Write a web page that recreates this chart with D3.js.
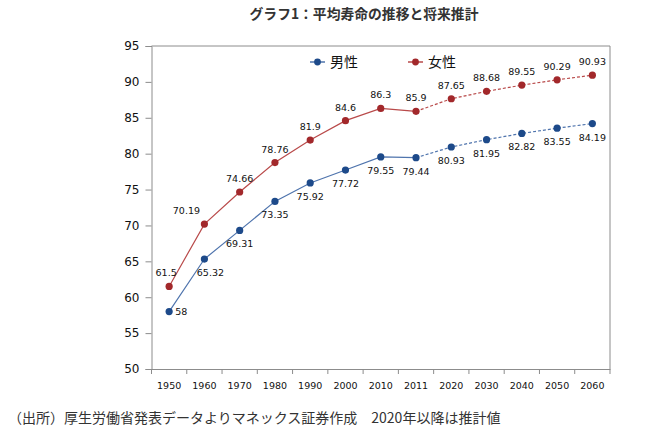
<!DOCTYPE html>
<html><head><meta charset="utf-8">
<script src="https://cdn.jsdelivr.net/npm/d3@7"></script>
<style>body{margin:0;background:#fff}</style>
</head><body><svg id="c" width="654" height="432"></svg>
<script>
const years = ["1950","1960","1970","1980","1990","2000","2010","2011","2020","2030","2040","2050","2060"];
const male = [58,65.32,69.31,73.35,75.92,77.72,79.55,79.44,80.93,81.95,82.82,83.55,84.19];
const female = [61.5,70.19,74.66,78.76,81.9,84.6,86.3,85.9,87.65,88.68,89.55,90.29,90.93];
const yTicks = [50,55,60,65,70,75,80,85,90,95];
const splitYear = "2011"; // actual up to here, projected after
const seriesNames = ["男性","女性"];
const title = "グラフ1：平均寿命の推移と将来推計";
const caption = "（出所）厚生労働省発表データよりマネックス証券作成　2020年以降は推計値";

const svg = d3.select("#c");
const L=151.5, R=610, T=46, B=369;
const x = d3.scaleBand().domain(years).range([L,R]);
const y = d3.scaleLinear().domain([50,95]).range([B,T]);
const cx = d => x(d)+x.bandwidth()/2;
const axisCol="#8c8c8c";
const numFont="'DejaVu Sans', Verdana, sans-serif";
const jpFont="'Noto Sans CJK JP', sans-serif";

svg.append("text").attr("x",364).attr("y",19).attr("text-anchor","middle")
  .attr("font-family",jpFont).attr("font-weight","bold").attr("font-size",13.8).attr("fill","#333").text(title);

// frame top and right
svg.append("line").attr("x1",L).attr("x2",R).attr("y1",T).attr("y2",T).attr("stroke",axisCol);
svg.append("line").attr("x1",R).attr("x2",R).attr("y1",T).attr("y2",B).attr("stroke",axisCol);

const ya = svg.append("g").attr("transform",`translate(${L},0)`)
  .call(d3.axisLeft(y).tickValues(yTicks).tickSize(6).tickPadding(6));
ya.select(".domain").attr("stroke",axisCol);
ya.selectAll(".tick line").attr("stroke",axisCol);
ya.selectAll("text").attr("font-family",numFont).attr("font-size",12).attr("fill","#111");

const xa = svg.append("g").attr("transform",`translate(0,${B})`)
  .call(d3.axisBottom(x).tickSize(0).tickPadding(13));
xa.select(".domain").attr("stroke",axisCol);
xa.selectAll("text").attr("font-family",numFont).attr("font-size",9.5).attr("fill","#111");
// boundary ticks
svg.append("g").selectAll("line").data(years.concat(["end"])).join("line")
  .attr("x1",(d,i)=>L+i*x.step()).attr("x2",(d,i)=>L+i*x.step())
  .attr("y1",B).attr("y2",B+5).attr("stroke",axisCol);

const si = years.indexOf(splitYear);
const series = [
  {name:seriesNames[0], vals:male, line:"#4f74ad", dot:"#1d4a8a", below:true},
  {name:seriesNames[1], vals:female, line:"#b94a4a", dot:"#a2282b", below:false}
];
const line = d3.line().x(d=>cx(d.year)).y(d=>y(d.v));
series.forEach(s=>{
  const pts = years.map((yr,i)=>({year:yr,v:s.vals[i],i}));
  svg.append("path").attr("d",line(pts.slice(0,si+1))).attr("fill","none").attr("stroke",s.line).attr("stroke-width",1.2);
  svg.append("path").attr("d",line(pts.slice(si))).attr("fill","none").attr("stroke",s.line).attr("stroke-width",1.2).attr("stroke-dasharray","3,2");
  svg.append("g").selectAll("circle").data(pts).join("circle")
    .attr("cx",d=>cx(d.year)).attr("cy",d=>y(d.v)).attr("r",3.6).attr("fill",s.dot);
  svg.append("g").selectAll("text").data(pts).join("text")
    .attr("font-family",numFont).attr("font-size",9.5).attr("fill","#111")
    .attr("text-anchor",d=>(d.i===0&&s.below)?"start":"middle")
    .attr("x",d=>{ if(d.i===0) return s.below? cx(d.year)+6 : cx(d.year)-3; if(d.i===1) return cx(d.year)+(s.below?6:-18); return cx(d.year);})
    .attr("y",d=>{ if(d.i===0&&s.below) return y(d.v)+3.5; return s.below? y(d.v)+17 : y(d.v)-10; })
    .text(d=>d.v);
});

// legend
const lg = [{x:310,s:series[0]},{x:408,s:series[1]}];
lg.forEach(o=>{
  svg.append("line").attr("x1",o.x).attr("x2",o.x+15).attr("y1",62).attr("y2",62).attr("stroke",o.s.line).attr("stroke-width",1.5);
  svg.append("circle").attr("cx",o.x+7.5).attr("cy",62).attr("r",3.4).attr("fill",o.s.dot);
  svg.append("text").attr("x",o.x+20).attr("y",67).attr("font-family",jpFont).attr("font-size",14).attr("fill","#111").text(o.s.name);
});

svg.append("text").attr("x",8).attr("y",423).attr("font-family",jpFont).attr("font-size",14).attr("fill","#333").text(caption);
</script></body></html>
